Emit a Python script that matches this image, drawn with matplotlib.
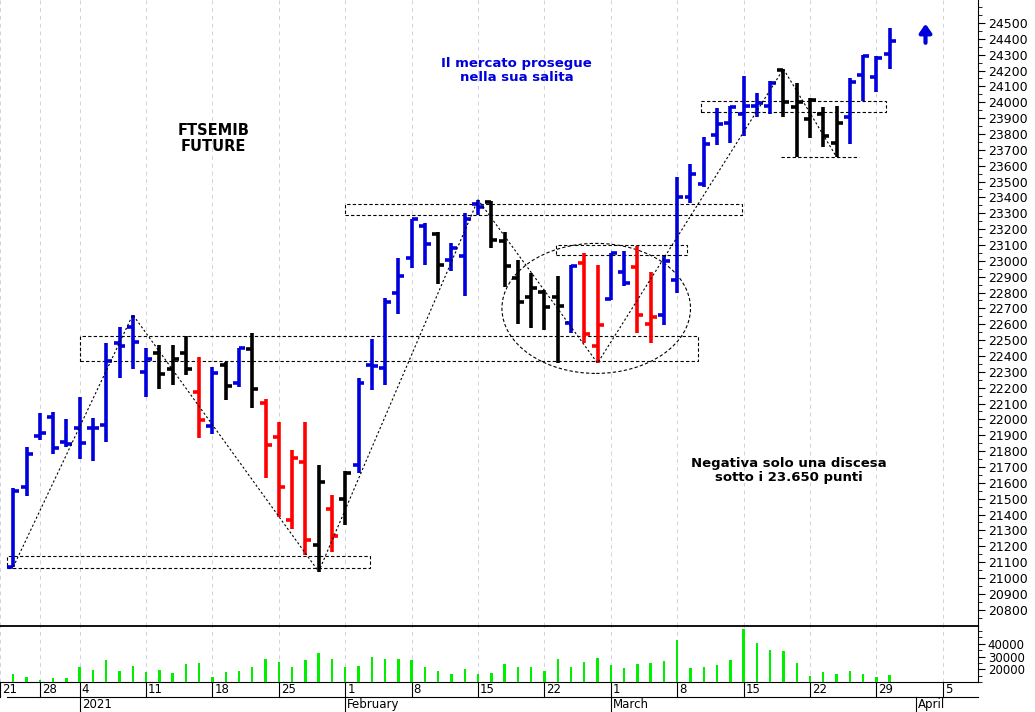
import numpy as np
import matplotlib.pyplot as plt
from matplotlib.patches import Rectangle, Ellipse

# OHLC per trading day (index 0 = 22 Dec 2020)
opens = [21070,21575,21895,22015,21860,21945,21945,21965,22480,22585,22300,22420,22320,22420,22175,21960,22345,22230,22445,22105,
         21890,21365,21730,21210,21435,21500,21715,22345,22325,22795,23020,23220,23170,23005,23030,23360,23370,23125,22890,22770,
         22805,22770,22610,22985,22465,22760,22930,22960,22600,22660,22880,23405,23485,23795,23870,23925,23975,23975,24205,23970,
         23895,23925,23745,23905,24170,24160,24305]
highs = [21570,21825,22040,22045,22005,22140,22010,22480,22585,22660,22450,22470,22470,22525,22395,22330,22360,22450,22545,22130,
         21985,21805,21985,21715,21525,21675,22260,22505,22765,23020,23265,23240,23180,23115,23300,23385,23375,23180,23005,22925,
         22815,22905,22975,23050,22975,23050,23060,23095,22930,23030,23530,23610,23780,23965,23975,24165,24060,24135,24210,24120,
         24025,23970,23975,24155,24300,24290,24470]
lows = [21070,21515,21870,21780,21825,21750,21740,21860,22260,22320,22140,22190,22215,22280,21885,21910,22120,22205,22070,21630,
        21385,21310,21145,21040,21165,21335,21660,22185,22215,22665,22955,22975,22855,22935,22780,23290,23080,22835,22600,22575,
        22565,22355,22545,22480,22355,22755,22840,22545,22480,22595,22795,23365,23465,23730,23745,23785,23905,23925,23905,23655,
        23775,23720,23655,23735,24010,24065,24210]
closes = [21550,21780,21915,21820,21845,21850,21945,22370,22465,22490,22380,22285,22380,22320,21995,22295,22210,22450,22190,21840,
          21575,21755,21240,21605,21265,21660,22230,22335,22740,22905,23265,23105,22975,23080,23265,23340,23130,22965,22740,22830,
          22710,22715,22965,22540,22595,23050,22860,22660,22645,23000,23405,23550,23735,23865,23970,23975,23995,24120,24000,24000,
          24015,23785,23870,24130,24290,24280,24385]
trend = list("bbbbbbbbbbbkkkrbkbkrrrrkrkbbbbbbkbbbkkkkkkbrrbbrrbbbbbbbbbkkkkkbbbb")
volumes = [16410,13850,11800,13330,13330,21540,19490,27180,18970,22820,17690,19490,17180,24100,24870,13850,17690,18460,21540,27950,
           25380,21540,27180,32560,27950,21540,22820,30000,27950,27950,27180,21540,18970,16410,20260,16410,17180,24100,21540,21540,
           18970,27950,21540,25900,29230,23330,20770,24100,24870,26410,43330,20770,22050,23330,27180,51540,40260,34870,34100,24870,
           14620,17690,16410,18460,16410,13850,15640]

day_ticks = [-1, 2, 5, 10, 15, 20, 25, 30, 35, 40, 45, 50, 55, 60, 65, 70]
day_labels = ['21', '28', '4', '11', '18', '25', '1', '8', '15', '22', '1', '8', '15', '22', '29', '5']
month_pos = [5, 25, 45, 68]
month_labels = ['2021', 'February', 'March', 'April']

zigzag_x = [0, 9, 23, 35, 44, 58, 62]
zigzag_y = [21070, 22660, 21040, 23385, 22355, 24210, 23655]
boxes = [(-0.45, 21065, 27.3, 75), (5, 22370, 46.6, 155), (25, 23290, 29.9, 70),
         (40.9, 23035, 9.8, 65), (51.8, 23940, 13.9, 70)]

cmap = {'b': '#0000dd', 'k': '#000000', 'r': '#ff0000'}
fig = plt.figure(figsize=(10.35, 7.12), dpi=100)
ax = fig.add_axes([0, 0.1208, 0.9449, 0.8792])
axv = fig.add_axes([0, 0.0421, 0.9449, 0.0787])
ax.set_axisbelow(True)
axv.set_axisbelow(True)

x = np.arange(len(opens))
for i in x:
    c = cmap[trend[i]]
    ax.vlines(i, lows[i], highs[i], color=c, lw=2.6)
    ax.hlines(opens[i], i - 0.45, i, color=c, lw=2.6)
    ax.hlines(closes[i], i, i + 0.45, color=c, lw=2.6)

ax.plot(zigzag_x, zigzag_y, color='black', lw=0.8, ls=(0, (2, 2)))
for bx, by, bw, bh in boxes:
    ax.add_patch(Rectangle((bx, by), bw, bh, fill=False, ec='black', lw=0.8, ls=(0, (3, 2))))
ax.hlines(23655, 57.8, 63.7, color='black', lw=0.8, ls=(0, (3, 2)))
ax.add_patch(Ellipse((43.9, 22700), 14.2, 820, fill=False, ec='black', lw=0.8, ls=(0, (3, 2))))

ax.text(15.1, 23770, 'FTSEMIB\nFUTURE', ha='center', va='center', fontsize=10.5, fontweight='bold', linespacing=1.1)
ax.text(37.9, 24200, 'Il mercato prosegue\nnella sua salita', ha='center', va='center', fontsize=9.5,
        fontweight='bold', color='#0000dd', linespacing=1.1)
ax.text(58.4, 21675, 'Negativa solo una discesa\nsotto i 23.650 punti', ha='center', va='center', fontsize=9.5,
        fontweight='bold', linespacing=1.1)
ax.annotate('', xy=(68.7, 24495), xytext=(68.7, 24375),
            arrowprops=dict(arrowstyle='-|>,head_width=0.35,head_length=0.5', color='#0000dd', lw=3,
                            shrinkA=0, shrinkB=0))

xl = (-0.45, 72.65)
ax.set_xlim(xl)
ax.set_ylim(20697, 24645)
ax.yaxis.tick_right()
ax.set_yticks(np.arange(20800, 24501, 100))
ax.set_yticks(np.arange(20750, 24601, 50), minor=True)
ax.tick_params(axis='y', labelsize=9, length=5, pad=2)
ax.tick_params(axis='y', which='minor', length=3)
ax.set_xticks(day_ticks)
ax.tick_params(axis='x', length=0, labelbottom=False)
ax.grid(axis='x', color='#d0d0e0', ls=(0, (4, 4)), lw=0.7)
for s in ['left', 'top']:
    ax.spines[s].set_visible(False)

axv.bar(x, volumes, width=0.18, color='#00ee00', bottom=0, zorder=3)
axv.set_xlim(xl)
axv.set_ylim(11300, 54000)
axv.yaxis.tick_right()
axv.set_yticks([20000, 30000, 40000])
axv.set_yticks([10000, 15000, 25000, 35000, 45000, 50000], minor=True)
axv.tick_params(axis='y', labelsize=8.5, length=5, pad=2)
axv.tick_params(axis='y', which='minor', length=3)
axv.set_xticks(day_ticks)
axv.tick_params(axis='x', length=0, labelbottom=False)
axv.grid(axis='x', color='#d0d0e0', ls=(0, (4, 4)), lw=0.7)
axv.spines['left'].set_visible(False)
axv.spines['top'].set_linewidth(1.3)

tr = axv.get_xaxis_transform()
for p, lab in zip(day_ticks, day_labels):
    axv.text(p + 0.15, -0.02, lab, transform=tr, ha='left', va='top', fontsize=8.5, clip_on=False)
    axv.plot([p, p], [0, -0.27], transform=tr, color='black', lw=0.8, clip_on=False)
axv.plot([xl[0], xl[1]], [-0.27, -0.27], transform=tr, color='black', lw=0.8, clip_on=False)
for p, lab in zip(month_pos, month_labels):
    axv.text(p + 0.15, -0.29, lab, transform=tr, ha='left', va='top', fontsize=8.5, clip_on=False)
    axv.plot([p, p], [-0.27, -0.6], transform=tr, color='black', lw=0.8, clip_on=False)

fig.savefig('out.png', dpi=100)
